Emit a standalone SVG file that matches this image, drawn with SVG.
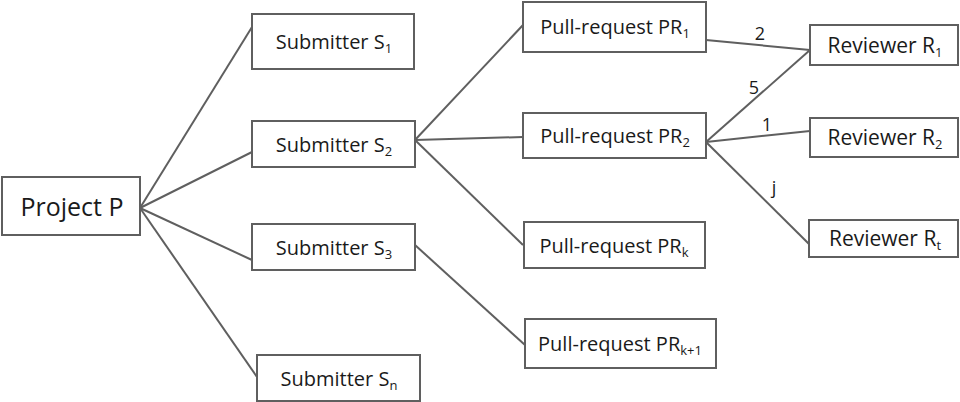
<svg xmlns="http://www.w3.org/2000/svg" width="960" height="402" viewBox="0 0 960 402">
<style>
rect{fill:#fff;stroke:#5f5f5f;stroke-width:2}
text{font-family:"Open Sans","Liberation Sans",sans-serif;fill:#1a1a1a;font-size:20px;text-anchor:middle}
.big{font-size:25px}
.sub{font-size:13px}
.rv{font-size:21px}
#edges line{stroke:#5f5f5f;stroke-width:2}
.lbl{font-size:18px}
</style>
<rect x="0" y="0" width="960" height="402" style="fill:#fff;stroke:none"/>
<g id="edges">
<line x1="140" y1="208" x2="252" y2="27"/>
<line x1="140" y1="208" x2="252" y2="152"/>
<line x1="140" y1="208" x2="252" y2="260"/>
<line x1="140" y1="208" x2="257" y2="377"/>
<line x1="415" y1="140" x2="523" y2="25"/>
<line x1="415" y1="140" x2="523" y2="137"/>
<line x1="415" y1="140" x2="523" y2="245"/>
<line x1="415" y1="245" x2="525" y2="345"/>
<line x1="706" y1="40" x2="810" y2="50"/>
<line x1="706" y1="142" x2="810" y2="50"/>
<line x1="706" y1="142" x2="810" y2="131"/>
<line x1="706" y1="142" x2="809" y2="244"/>
<text class="lbl" x="760" y="40">2</text>
<text class="lbl" x="754" y="94">5</text>
<text class="lbl" x="767" y="131">1</text>
<text class="lbl" x="774" y="194">j</text>
</g>
<g id="project"><rect x="2" y="177" width="138" height="58"/><text class="big" x="72" y="216">Project P</text></g>
<g id="s1"><rect x="252" y="14" width="162" height="55"/><text x="334" y="49">Submitter S<tspan class="sub" dy="4">1</tspan></text></g>
<g id="s2"><rect x="252" y="121" width="163" height="46"/><text x="334" y="152">Submitter S<tspan class="sub" dy="4">2</tspan></text></g>
<g id="s3"><rect x="252" y="224" width="163" height="46"/><text x="334" y="255">Submitter S<tspan class="sub" dy="4">3</tspan></text></g>
<g id="sn"><rect x="257" y="355" width="163" height="46"/><text x="339" y="386">Submitter S<tspan class="sub" dy="4">n</tspan></text></g>
<g id="pr1"><rect x="523" y="2" width="183" height="50"/><text x="615" y="34">Pull-request PR<tspan class="sub" dy="4">1</tspan></text></g>
<g id="pr2"><rect x="523" y="113" width="183" height="45"/><text x="615" y="143">Pull-request PR<tspan class="sub" dy="4">2</tspan></text></g>
<g id="prk"><rect x="524" y="222" width="181" height="46"/><text x="614" y="253">Pull-request PR<tspan class="sub" dy="4">k</tspan></text></g>
<g id="prk1"><rect x="525" y="319" width="191" height="49"/><text x="620" y="351">Pull-request PR<tspan class="sub" dy="4">k+1</tspan></text></g>
<g id="r1"><rect x="810" y="25" width="148" height="40"/><text class="rv" x="885" y="53">Reviewer R<tspan class="sub" dy="4">1</tspan></text></g>
<g id="r2"><rect x="810" y="118" width="148" height="39"/><text class="rv" x="885" y="145">Reviewer R<tspan class="sub" dy="4">2</tspan></text></g>
<g id="rt"><rect x="809" y="220" width="149" height="37"/><text class="rv" x="885" y="246">Reviewer R<tspan class="sub" dy="4">t</tspan></text></g>
</svg>
